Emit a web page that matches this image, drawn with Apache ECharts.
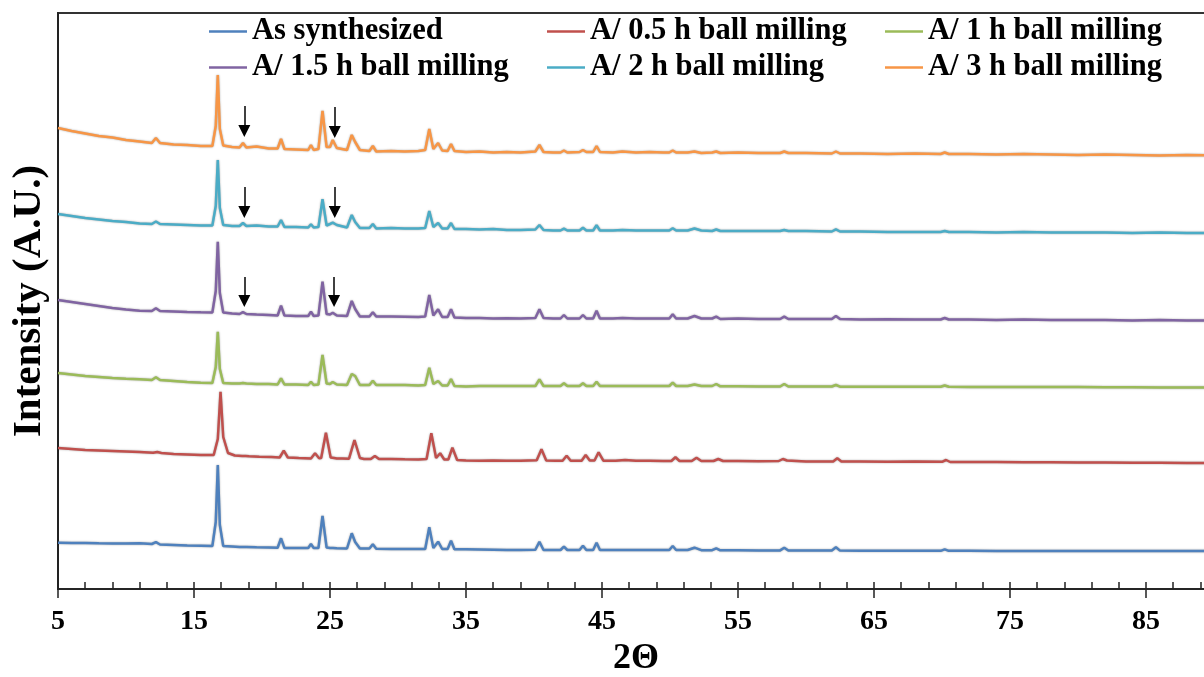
<!DOCTYPE html>
<html>
<head>
<meta charset="utf-8">
<script src="https://cdn.jsdelivr.net/npm/echarts@6/dist/echarts.min.js"></script>
<style>
  html, body { margin: 0; padding: 0; background: #fff; }
  #chart { width: 1204px; height: 677px; }
</style>
</head>
<body>
<div id="chart"></div>
<script>
// 2θ sampling points shared by the as-synthesized, 1 h, 1.5 h, 2 h and 3 h patterns
const angle = [
  5, 6, 7, 8, 9, 10, 11, 11.9, 12.2, 12.5, 13.5, 14.5, 15.5,
  16.35, 16.6, 16.75, 16.9, 17.15, 17.8,
  18.35, 18.6, 18.85, 19.6, 20.5,
  21.15, 21.4, 21.65, 22.5,
  23.4, 23.6, 23.8, 24.15, 24.45, 24.75, 25.0, 25.2, 25.5,
  26.25, 26.6, 26.85, 27.2, 27.9, 28.15, 28.4,
  29.5, 30.5, 31.5, 32.0, 32.3, 32.6, 32.95, 33.25, 33.65, 33.9, 34.15,
  35, 36, 37, 38, 39,
  40.1, 40.4, 40.7, 41.4, 41.95, 42.2, 42.45, 43.35, 43.6, 43.85, 44.35, 44.6, 44.85,
  45.8, 46.5, 47.5, 48.5, 49.5, 49.95, 50.2, 50.45, 51.3, 51.8, 52.3, 53.1, 53.4, 53.7,
  55, 56.5, 58.1, 58.4, 58.7, 60, 61.9, 62.2, 62.5,
  64, 66, 68, 69.9, 70.2, 70.5, 72, 74, 76, 78, 80, 82, 84, 86, 88, 90
];

// 2θ sampling points of the 0.5 h pattern (its reflections sit slightly higher)
const angleHalfHour = [
  5, 6, 7, 8, 9, 10, 11, 12.0, 12.3, 12.6, 13.5, 14.5, 15.5,
  16.45, 16.75, 16.95, 17.15, 17.5, 18.0,
  18.55, 18.8, 19.05, 19.8, 20.7,
  21.3, 21.6, 21.9, 22.7,
  23.6, 23.9, 24.2, 24.35, 24.7, 25.05, 25.3, 25.5, 25.9,
  26.4, 26.8, 27.2, 27.5, 28.0, 28.3, 28.6,
  29.5, 30.5, 31.5, 32.1, 32.45, 32.8, 33.1, 33.4, 33.7, 34.0, 34.35,
  35, 36, 37, 38, 39,
  40.2, 40.55, 40.9, 41.6, 42.1, 42.4, 42.7, 43.5, 43.8, 44.1, 44.45, 44.75, 45.1,
  46, 46.7, 47.5, 48.5, 49.5, 50.1, 50.4, 50.7, 51.6, 51.95, 52.3, 53.2, 53.55, 53.9,
  55, 56.5, 58.0, 58.3, 58.6, 60, 62.0, 62.3, 62.6,
  64, 66, 68, 70.0, 70.3, 70.6, 72, 74, 76, 78, 80, 82, 84, 86, 88, 90
];

// Offset intensities (A.U.), one value per sampling point
const asSynthesized = [
  46.3, 46, 46, 45.7, 45.5, 45.5, 45.7, 45, 46.8, 44.5, 44, 43.5, 43.3,
  43, 67, 124, 64, 43, 42.5,
  42, 42, 42, 41.7, 41.5,
  41.3, 50.7, 41, 41,
  41, 45, 41, 41, 73, 41.5, 41, 41, 40.7,
  40.5, 55.7, 47, 40.5, 40.5, 44.7, 40.3,
  40, 40, 40, 40, 61.7, 41, 47.3, 40, 40, 48.3, 39.7,
  39.7, 39.5, 39.3, 39, 39,
  39.2, 47.3, 39, 39, 39, 42.3, 39, 39, 43.3, 39, 39, 46.3, 39,
  39, 39, 39, 39, 39, 39, 43, 39, 39, 41.3, 38.8, 38.8, 40.7, 38.7,
  38.7, 38.6, 38.6, 41.3, 38.5, 38.5, 38.5, 41.7, 38.4,
  38.3, 38.3, 38.3, 38.2, 39.7, 38.2, 38.2, 38.1, 38.1, 38, 38, 38, 38, 38, 38, 38
];

const milled05h = [
  141, 140, 139, 138.5, 138, 137.5, 137, 136.2, 137, 136, 135, 134.5, 134,
  134, 150, 197.3, 152, 136, 133.5,
  133, 133, 132.7, 132.3, 132,
  131.5, 138.3, 131.5, 131,
  130.5, 135.7, 130.7, 131, 156.3, 131.5, 131, 130.5, 130.5,
  130.3, 149, 131, 130, 130, 133, 130,
  130, 129.7, 129.5, 130, 155.7, 131, 135.7, 129.5, 129.5, 141.3, 129,
  128.5, 128.3, 128.5, 128.3, 128.3,
  128.7, 139.7, 128.5, 128.3, 128.3, 133.3, 128.3, 128.3, 134, 128.5, 128.5, 136.7, 128.3,
  128.3, 129, 128.3, 128.3, 128, 128, 131.7, 128, 128, 131.3, 128, 128, 130, 128,
  128, 127.8, 128, 130, 128.5, 127.5, 127.5, 130.7, 127.5,
  127.5, 127.3, 127.5, 127.2, 129, 127, 127, 127, 126.8, 126.7, 126.5, 126.5, 126.3, 126.2, 126, 126
];

const milled1h = [
  216, 214.5, 213, 212, 211, 210.3, 209.7, 209, 211.7, 209, 208, 207, 206.3,
  206, 222, 257.3, 220, 206, 205.5,
  205.5, 206, 205.5, 205, 205,
  204.5, 210.7, 204.5, 204.5,
  204, 207.3, 204, 204.5, 234, 205.5, 205, 207, 204.5,
  204, 215, 213, 204, 204, 208.3, 204,
  204, 204, 203.5, 204, 221.3, 205, 208, 203.5, 203.5, 210, 203,
  202.5, 203, 203, 203, 203,
  203, 209.7, 203, 203, 203, 205.7, 203, 203, 205.7, 203, 203, 207.3, 203,
  203, 203, 203, 203, 203, 203, 206.3, 203, 203, 204.5, 203, 203, 205, 202.7,
  202.7, 202.5, 202.5, 205, 202.5, 202.5, 202.5, 204, 202.3,
  202.3, 202.3, 202.2, 202.2, 203.5, 202.2, 202, 202, 202, 202, 202, 201.8, 201.8, 201.5, 201.5, 201.5
];

const milled15h = [
  289, 287, 285, 283, 281, 279.5, 278.3, 278, 280.7, 278, 277.5, 277, 276.7,
  276.5, 298, 347.3, 296, 276.5, 275.5,
  275, 276.8, 275, 274.5, 274,
  273.5, 283.3, 273.5, 273,
  273, 277.3, 273, 273.5, 307.3, 275, 274.5, 276.3, 273.5,
  273, 288, 280, 272.5, 272.5, 276.7, 272.5,
  272.5, 272.3, 272, 272.5, 294, 273.5, 279.7, 272, 272, 279.7, 271.5,
  271, 271, 270.5, 270.7, 270.5,
  271, 279.7, 271, 270.5, 270.5, 274, 270.5, 270.5, 274, 270.5, 270.5, 278.3, 270.5,
  270.5, 271, 270.5, 270.5, 270.5, 270.5, 274.7, 270.5, 270.5, 273, 270.5, 270.5, 272.3, 270,
  270.5, 270, 270, 272.3, 270, 270, 270, 273, 270,
  269.5, 269.7, 269.5, 269.5, 271, 269.5, 269.5, 269, 269.5, 269, 269, 269, 268.5, 269, 268.5, 268.5
];

const milled2h = [
  375, 373, 371, 369.5, 368, 367, 365.5, 365, 367.5, 365, 364.5, 364, 363.5,
  363.5, 383, 429, 381, 364, 363,
  363, 366, 363, 363.5, 362.5,
  362.5, 369, 362, 362,
  361.5, 364.7, 361.5, 362, 389.7, 363.5, 365, 366.3, 364,
  361.5, 374, 367, 361, 361, 365, 360.5,
  361, 360.5, 360.5, 361, 378, 362, 366, 360.5, 360.5, 366, 360,
  360, 359.5, 360, 359, 359,
  359.5, 364, 359, 358.5, 358.5, 360.3, 358.5, 358.5, 361.3, 358.5, 358.5, 363.7, 358.5,
  358.5, 359, 358.5, 358.5, 358.5, 358.5, 360.7, 358.5, 358.5, 360.5, 358.5, 358, 359.5, 358,
  358, 358, 358, 359, 358, 358, 357.5, 359.7, 357.5,
  357.5, 357, 357, 357, 358, 357, 357, 356.5, 357, 356.5, 356.5, 356.5, 356, 356.5, 356, 356
];

const milled3h = [
  461, 458, 455.5, 453, 451.5, 449, 447.5, 446, 451, 446, 444.5, 444, 443,
  443, 463, 514, 460, 443.5, 442,
  441.5, 446, 441.5, 442.5, 440.5,
  440.5, 450, 440, 439.5,
  439, 444, 439, 440, 478, 442, 442, 449, 441,
  439, 454, 447, 439, 438, 443, 437.5,
  438, 437.5, 438, 439, 460, 440, 446, 438.5, 438, 445, 438,
  437, 437.5, 436.5, 437, 436.5,
  437.5, 444, 437, 436.5, 436.5, 438.5, 436.5, 437, 439, 437, 437, 443, 437,
  436.5, 437.5, 436.5, 437, 436.5, 436.5, 438.5, 436.5, 436.5, 437.5, 436, 436.5, 437.5, 436,
  436.5, 436, 436, 437.5, 436, 436, 435.5, 437.5, 435.5,
  435.5, 435, 435.5, 435, 436.5, 435, 435, 434.5, 435, 434.5, 434, 434.5, 434, 433.5, 434, 433.5
];

const seriesNames = [
  'As synthesized', 'A/ 0.5 h ball milling', 'A/ 1 h ball milling',
  'A/ 1.5 h ball milling', 'A/ 2 h ball milling', 'A/ 3 h ball milling'
];
const seriesColors = ['#4F81BD', '#C0504D', '#9BBB59', '#8064A2', '#4BACC6', '#F79646'];

// Down-arrows marking the extra reflections: [2θ, arrow tail, arrow head] in A.U.
const arrows15h = [[18.7, 312, 288], [25.3, 312, 288]];
const arrows2h = [[18.7, 402, 377], [25.35, 402, 377]];
const arrows3h = [[18.7, 483, 458], [25.35, 482, 457]];

const xTicks = { min: 5, max: 90, major: 10, minor: 2 };

const FONT = '"Liberation Serif", "Times New Roman", serif';

function pairs(xs, ys) {
  return xs.map((x, i) => [x, ys[i]]);
}

function arrowLines(list) {
  return {
    silent: true,
    symbol: ['none', 'triangle'],
    symbolSize: [12, 12],
    label: { show: false },
    lineStyle: { color: '#000', width: 1.5, type: 'solid', shadowBlur: 0 },
    itemStyle: { color: '#000' },
    emphasis: { disabled: true },
    data: list.map(a => [{ coord: [a[0], a[1]] }, { coord: [a[0], a[2]] }])
  };
}

const patterns = [
  { x: angle, y: asSynthesized },
  { x: angleHalfHour, y: milled05h },
  { x: angle, y: milled1h },
  { x: angle, y: milled15h, arrows: arrows15h },
  { x: angle, y: milled2h, arrows: arrows2h },
  { x: angle, y: milled3h, arrows: arrows3h }
];

const series = patterns.map((p, i) => {
  const s = {
    name: seriesNames[i],
    type: 'line',
    xAxisIndex: 0,
    yAxisIndex: 0,
    data: pairs(p.x, p.y),
    showSymbol: false,
    symbol: 'none',
    sampling: 'none',
    animation: false,
    color: seriesColors[i],
    lineStyle: {
      color: seriesColors[i],
      width: 2.5,
      shadowColor: 'rgba(0,0,0,0.35)',
      shadowBlur: 2
    }
  };
  if (p.arrows) s.markLine = arrowLines(p.arrows);
  return s;
});

const legendBase = {
  orient: 'vertical',
  icon: 'rect',
  itemWidth: 38,
  itemHeight: 2.5,
  itemGap: 5,
  padding: 0,
  top: 16,
  selectedMode: false,
  textStyle: { fontFamily: FONT, fontWeight: 'bold', fontSize: 30.5, color: '#000' }
};

const option = {
  animation: false,
  backgroundColor: '#fff',
  grid: {
    left: 58, right: -10, top: 13, bottom: 88,
    outerBoundsMode: 'none',
    containLabel: false,
    show: true, borderColor: '#333', borderWidth: 2, backgroundColor: 'transparent'
  },
  legend: [
    Object.assign({}, legendBase, { left: 209, data: [seriesNames[0], seriesNames[3]] }),
    Object.assign({}, legendBase, { left: 547, data: [seriesNames[1], seriesNames[4]] }),
    Object.assign({}, legendBase, { left: 885, data: [seriesNames[2], seriesNames[5]] })
  ],
  xAxis: [
    {
      type: 'value',
      position: 'bottom',
      min: xTicks.min, max: xTicks.max, interval: xTicks.major,
      name: '2Θ',
      nameLocation: 'middle',
      nameGap: 52,
      nameTextStyle: { fontFamily: FONT, fontWeight: 'bold', fontSize: 36, color: '#000' },
      axisLine: { onZero: false, lineStyle: { color: '#222', width: 1.5 } },
      axisTick: { inside: false, length: 9, lineStyle: { color: '#222', width: 1.5 } },
      axisLabel: {
        fontFamily: FONT, fontWeight: 'bold', fontSize: 28, color: '#000',
        margin: 19, showMaxLabel: false
      },
      splitLine: { show: false }
    },
    {
      type: 'value',
      position: 'bottom',
      min: xTicks.min, max: xTicks.max, interval: xTicks.minor,
      axisLine: { show: false, onZero: false },
      axisTick: { inside: true, length: 7, lineStyle: { color: '#222', width: 1.5 } },
      axisLabel: { show: false },
      splitLine: { show: false }
    }
  ],
  yAxis: {
    type: 'value',
    min: 0, max: 576,
    name: 'Intensity (A.U.)',
    nameLocation: 'middle',
    nameGap: 8,
    nameTextStyle: { fontFamily: FONT, fontWeight: 'bold', fontSize: 41, color: '#000' },
    axisLine: { show: true, lineStyle: { color: '#222', width: 2 } },
    axisTick: { show: false },
    axisLabel: { show: false },
    splitLine: { show: false }
  },
  series: series
};

const chart = echarts.init(document.getElementById('chart'), null, { renderer: 'canvas' });
chart.setOption(option);
</script>
</body>
</html>
